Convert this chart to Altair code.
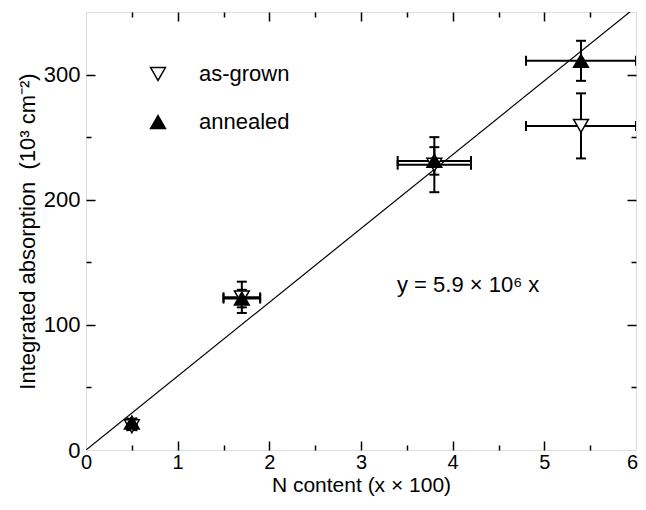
import altair as alt
import pandas as pd

# ---- data ----
x_content = [0.5, 1.7, 3.8, 5.4]
x_err = [0.05, 0.2, 0.4, 0.6]
asgrown_y = [19, 122, 228, 259]
asgrown_err = [3, 12.5, 22, 26]
annealed_y = [22, 121, 231, 311]
annealed_err = [3, 7, 11, 16]
series_names = ["as-grown", "annealed"]
fit_x = [0, 6]
fit_y = [0, 354]

x_labels = [0, 1, 2, 3, 4, 5, 6]
x_major = [1, 2, 3, 4, 5]
x_minor = [0.5, 1.5, 2.5, 3.5, 4.5, 5.5]
y_labels = [0, 100, 200, 300]
y_major = [100, 200, 300]
y_minor = [50, 150, 250]

x_title = "N content (x × 100)"
y_title = "Integrated absorption \u00a0(10³ cm⁻²)"
fit_label = "y = 5.9 × 10⁶ x"

FONT = "Liberation Sans"
FS = 22

rows = []
for name, ys_, es_ in [(series_names[0], asgrown_y, asgrown_err),
                       (series_names[1], annealed_y, annealed_err)]:
    for xv, xe, yv, ye in zip(x_content, x_err, ys_, es_):
        rows.append(dict(series=name, x=xv, y=yv, xlo=xv - xe, xhi=xv + xe,
                         ylo=yv - ye, yhi=yv + ye))
df = pd.DataFrame(rows)
fit_df = pd.DataFrame({"x": fit_x, "y": fit_y})
txt_df = pd.DataFrame({"t": [fit_label]})

xs = alt.Scale(domain=[0, 6], nice=False, zero=False)
ys = alt.Scale(domain=[0, 350], nice=False, zero=False)


def tick_axis(orient, values, length):
    return alt.Axis(orient=orient, values=values, offset=-length, tickSize=length,
                    tickWidth=1.5, tickColor="black", labels=False, domain=False,
                    grid=False, title=None)


main_x = alt.Axis(orient="bottom", values=x_labels, format="d", ticks=False,
                  domain=False, grid=False, labelFontSize=20, labelFont=FONT,
                  labelColor="black", labelPadding=2, labelFlush=False,
                  labelOffset={"condition": {"test": "datum.value == 6", "value": -4},
                               "value": 0},
                  title=x_title, titleFontSize=21, titleFont=FONT,
                  titleFontWeight="normal", titleColor="black", titlePadding=2)
main_y = alt.Axis(orient="left", values=y_labels, format="d", ticks=False,
                  domain=False, grid=False, labelFontSize=FS, labelFont=FONT,
                  labelColor="black", labelPadding=6, labelFlush=False,
                  title=y_title, titleFontSize=FS, titleFont=FONT,
                  titleFontWeight="normal", titleColor="black", titlePadding=4)

fit = alt.Chart(fit_df).mark_line(color="black", strokeWidth=1.2, clip=True).encode(
    x=alt.X("x:Q", scale=xs, axis=main_x),
    y=alt.Y("y:Q", scale=ys, axis=main_y),
)


def dummy(ax_x, ax_y):
    return alt.Chart(df).mark_point(opacity=0).encode(
        x=alt.X("x:Q", scale=xs, axis=ax_x),
        y=alt.Y("y:Q", scale=ys, axis=ax_y),
    )


d1 = dummy(tick_axis("bottom", x_major, 9), tick_axis("left", y_major, 9))
d2 = dummy(tick_axis("bottom", x_minor, 5), tick_axis("left", y_minor, 5))
d3 = dummy(tick_axis("top", x_major, 9), tick_axis("right", y_major, 9))
d4 = dummy(tick_axis("top", x_minor, 5), tick_axis("right", y_minor, 5))

base = alt.Chart(df)
hbar = base.mark_rule(color="black", strokeWidth=2, clip=True).encode(
    x=alt.X("xlo:Q", scale=xs, axis=None), x2="xhi:Q",
    y=alt.Y("y:Q", scale=ys, axis=None))
vbar = base.mark_rule(color="black", strokeWidth=2, clip=True).encode(
    x=alt.X("x:Q", scale=xs, axis=None),
    y=alt.Y("ylo:Q", scale=ys, axis=None), y2="yhi:Q")
cap_lo = base.mark_tick(orient="horizontal", size=10, thickness=2, color="black",
                        opacity=1, clip=True).encode(
    x=alt.X("x:Q", scale=xs, axis=None), y=alt.Y("ylo:Q", scale=ys, axis=None))
cap_hi = base.mark_tick(orient="horizontal", size=10, thickness=2, color="black",
                        opacity=1, clip=True).encode(
    x=alt.X("x:Q", scale=xs, axis=None), y=alt.Y("yhi:Q", scale=ys, axis=None))
cap_l = base.mark_tick(orient="vertical", size=10, thickness=2, color="black",
                       opacity=1, clip=True).encode(
    x=alt.X("xlo:Q", scale=xs, axis=None), y=alt.Y("y:Q", scale=ys, axis=None))
cap_r = base.mark_tick(orient="vertical", size=10, thickness=2, color="black",
                       opacity=1, clip=True).encode(
    x=alt.X("xhi:Q", scale=xs, axis=None), y=alt.Y("y:Q", scale=ys, axis=None))

leg = alt.Legend(title=None, orient="none", legendX=61, legendY=51,
                 symbolSize=220, symbolStrokeColor="black", symbolStrokeWidth=1.5,
                 labelFontSize=FS, labelFont=FONT, labelColor="black",
                 labelOffset=30, rowPadding=26, padding=0)

points = base.mark_point(filled=True, size=220, strokeWidth=1.5,
                         opacity=1).encode(
    x=alt.X("x:Q", scale=xs, axis=None),
    y=alt.Y("y:Q", scale=ys, axis=None),
    shape=alt.Shape("series:N", scale=alt.Scale(domain=series_names,
                    range=["triangle-down", "triangle-up"]), legend=leg),
    fill=alt.Fill("series:N", scale=alt.Scale(domain=series_names,
                  range=["white", "black"]), legend=leg),
    stroke=alt.Stroke("series:N", scale=alt.Scale(domain=series_names,
                      range=["black", "black"]), legend=leg),
)

label = alt.Chart(txt_df).mark_text(align="left", baseline="middle", fontSize=FS,
                                    font=FONT, color="black").encode(
    x=alt.value(311), y=alt.value(273), text="t:N")

chart = alt.layer(fit, d1, d2, d3, d4, hbar, vbar, cap_lo, cap_hi, cap_l, cap_r,
                  points, label).resolve_axis(
    x="independent", y="independent"
).properties(
    width=550, height=438,
    autosize=alt.AutoSizeParams(type="none"),
    padding={"left": 78, "top": 4, "right": 2, "bottom": 46},
).configure_view(stroke="black", strokeWidth=2).configure(font=FONT)

chart.save("out.html", embed_options={"renderer": "svg", "actions": False})
